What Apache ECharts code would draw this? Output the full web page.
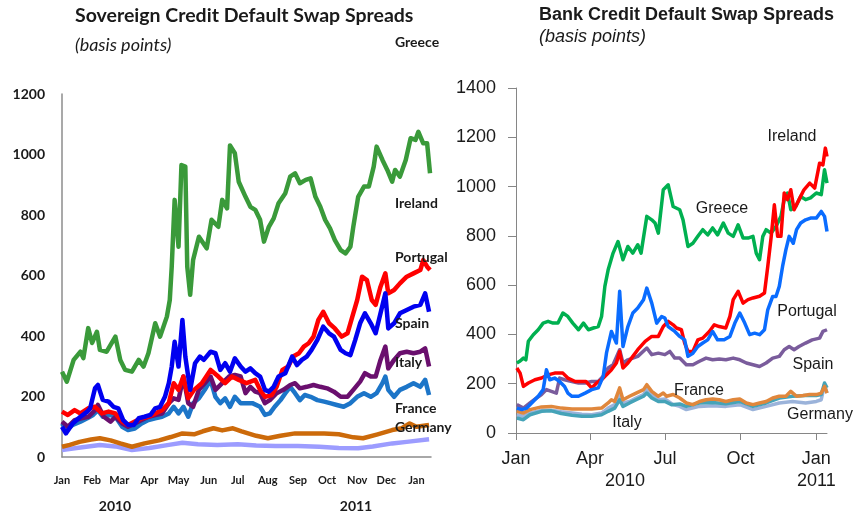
<!DOCTYPE html>
<html>
<head>
<meta charset="utf-8">
<script src="https://cdn.jsdelivr.net/npm/echarts@6/dist/echarts.min.js"></script>
<style>
  html, body { margin: 0; padding: 0; background: #ffffff; }
  #chart { width: 856px; height: 518px; }
</style>
</head>
<body>
<div id="chart"></div>
<script>
// x values are days counted from 1 Jan 2010
const monthStarts = [0, 31, 59, 90, 120, 151, 181, 212, 243, 273, 304, 334, 365];
const monthNames = ['Jan', 'Feb', 'Mar', 'Apr', 'May', 'Jun', 'Jul', 'Aug', 'Sep', 'Oct', 'Nov', 'Dec', 'Jan'];
const quarterStarts = [0, 90, 181, 273, 365];
const quarterNames = ['Jan', 'Apr', 'Jul', 'Oct', 'Jan'];
const yearLabels = ['2010', '2011'];

// Sovereign CDS spreads, basis points: [day, value]
const sovGreece = [[0,282],[5,249],[12,321],[19,348],[22,327],[27,426],[31,377],[36,414],[39,354],[46,348],[55,398],[60,321],[65,288],[72,282],[79,321],[84,299],[89,343],[96,442],[101,398],[108,464],[111,519],[113,629],[116,850],[120,695],[123,965],[127,960],[129,629],[132,536],[135,651],[141,728],[149,690],[154,784],[161,761],[165,850],[170,822],[173,1030],[178,1004],[182,910],[189,860],[194,827],[199,817],[204,784],[208,712],[213,761],[218,789],[223,839],[230,872],[235,927],[240,938],[245,905],[251,916],[256,921],[261,860],[266,827],[271,784],[276,756],[281,717],[287,684],[292,673],[297,695],[300,761],[305,860],[311,894],[316,894],[321,960],[324,1026],[330,982],[335,949],[340,910],[343,949],[348,927],[354,982],[359,1054],[364,1048],[367,1075],[372,1037],[376,1037],[379,938]];
const sovIreland = [[0,150],[6,139],[13,155],[19,144],[27,161],[34,166],[41,144],[48,150],[55,144],[62,117],[68,106],[75,117],[82,128],[89,133],[96,144],[103,155],[110,178],[115,244],[120,222],[125,266],[130,194],[136,222],[144,244],[153,288],[161,266],[168,244],[175,266],[182,255],[190,244],[199,255],[204,222],[209,199],[216,205],[221,232],[227,288],[233,299],[238,332],[244,343],[249,365],[254,376],[259,398],[264,453],[269,480],[275,442],[281,425],[288,398],[294,409],[299,464],[304,519],[309,596],[314,585],[319,519],[323,503],[328,563],[333,607],[336,541],[342,552],[348,574],[355,596],[362,607],[369,618],[372,651],[376,629],[379,618]];
const sovPortugal = [[0,100],[4,78],[11,111],[19,133],[26,150],[29,161],[34,227],[37,238],[42,189],[48,183],[53,166],[58,161],[63,122],[68,106],[74,106],[79,128],[85,133],[91,139],[96,161],[101,166],[106,199],[110,244],[113,299],[116,381],[120,299],[124,453],[127,332],[132,222],[137,310],[142,332],[146,321],[153,348],[158,343],[163,288],[168,310],[173,282],[178,326],[184,299],[189,282],[194,293],[199,277],[204,266],[209,222],[213,216],[218,232],[223,266],[230,277],[237,332],[242,304],[247,321],[252,332],[257,354],[263,387],[269,431],[275,409],[280,398],[287,354],[292,343],[297,337],[302,387],[307,442],[312,475],[318,442],[323,409],[328,475],[333,541],[336,425],[342,442],[348,475],[355,486],[362,497],[369,503],[374,541],[378,480]];
const sovSpain = [[0,117],[6,100],[13,122],[20,128],[27,133],[34,155],[37,172],[43,133],[50,117],[55,133],[62,111],[68,100],[75,111],[82,122],[89,133],[96,139],[103,144],[110,178],[115,194],[120,189],[125,266],[130,178],[135,166],[141,222],[147,244],[153,266],[158,222],[165,244],[172,266],[178,271],[184,266],[189,211],[194,232],[199,216],[204,211],[209,178],[214,188],[221,211],[228,222],[235,238],[240,244],[245,227],[252,232],[259,238],[266,232],[273,227],[280,216],[287,199],[294,199],[300,222],[307,249],[312,277],[318,266],[323,266],[328,321],[333,365],[336,293],[342,321],[348,343],[355,348],[362,343],[369,348],[374,359],[378,299]];
const sovItaly = [[0,111],[5,89],[11,106],[19,117],[26,128],[32,139],[37,155],[42,133],[50,139],[55,133],[62,100],[68,89],[75,94],[82,111],[89,122],[96,128],[103,133],[110,144],[115,166],[120,144],[125,166],[130,133],[135,178],[141,194],[147,222],[153,255],[158,199],[163,178],[168,194],[173,166],[178,199],[184,178],[190,178],[196,178],[204,166],[209,139],[214,144],[219,166],[225,188],[230,211],[235,232],[240,211],[245,188],[250,205],[256,199],[263,188],[270,183],[276,178],[283,172],[290,166],[297,178],[304,199],[311,211],[318,199],[324,211],[330,244],[333,266],[336,222],[342,199],[348,222],[355,232],[362,244],[369,232],[374,255],[378,205]];
const sovFrance = [[0,34],[8,40],[18,50],[30,58],[39,62],[50,55],[60,45],[72,34],[85,45],[100,55],[112,66],[124,78],[136,75],[145,85],[156,95],[165,88],[176,95],[185,85],[200,70],[212,62],[225,70],[240,78],[255,78],[270,78],[285,75],[300,65],[310,62],[325,75],[340,89],[350,95],[358,111],[365,100],[378,106]];
const sovGermany = [[0,23],[15,30],[39,40],[55,35],[72,23],[90,30],[110,40],[124,47],[140,42],[160,40],[181,42],[200,38],[220,36],[243,36],[265,34],[285,30],[305,29],[320,35],[340,45],[355,50],[378,59]];

// Bank CDS spreads, basis points: [day, value]
const bankGreece = [[1,284],[5,292],[9,304],[12,297],[15,372],[21,399],[27,419],[33,446],[39,453],[45,446],[51,446],[57,487],[63,473],[69,446],[76,419],[82,446],[88,419],[94,426],[100,432],[104,473],[108,595],[112,662],[118,730],[124,777],[130,703],[136,757],[142,730],[148,764],[152,730],[159,879],[165,865],[169,852],[173,811],[179,987],[185,1007],[191,919],[199,906],[203,865],[209,757],[215,770],[221,798],[227,825],[233,804],[239,832],[245,804],[252,852],[258,811],[264,798],[270,845],[276,791],[282,791],[288,798],[292,730],[296,703],[300,798],[304,825],[310,811],[316,838],[322,879],[326,947],[330,974],[334,906],[340,919],[346,960],[352,947],[358,954],[365,974],[371,967],[375,1068],[378,1014]];
const bankIreland = [[1,264],[5,243],[9,189],[15,203],[23,216],[31,223],[39,236],[47,243],[57,243],[63,223],[72,209],[79,209],[85,209],[92,183],[98,203],[104,216],[110,236],[116,257],[122,284],[126,331],[130,264],[136,284],[142,311],[148,338],[157,372],[165,392],[173,392],[179,432],[185,453],[191,439],[195,426],[201,419],[205,365],[209,331],[215,331],[221,378],[227,385],[235,412],[241,439],[247,432],[255,426],[260,473],[264,541],[270,575],[276,527],[282,541],[288,548],[296,555],[302,568],[306,676],[310,791],[314,926],[318,798],[322,798],[326,974],[330,947],[334,987],[338,906],[344,947],[350,987],[357,1014],[363,994],[369,1095],[373,1088],[376,1156],[378,1122]];
const bankPortugal = [[1,101],[7,95],[13,101],[19,122],[27,149],[33,176],[37,257],[41,216],[47,223],[53,209],[59,189],[63,162],[68,149],[76,149],[84,162],[92,176],[100,183],[106,230],[110,325],[116,412],[122,365],[126,575],[130,351],[136,432],[142,487],[148,507],[155,541],[159,588],[165,527],[171,446],[177,473],[181,466],[185,432],[193,412],[199,392],[205,378],[209,311],[215,324],[221,351],[227,365],[233,378],[239,412],[245,378],[253,378],[260,392],[266,446],[272,487],[278,446],[284,399],[290,405],[296,399],[302,419],[306,500],[312,554],[316,554],[320,595],[324,676],[328,743],[332,798],[337,770],[341,825],[346,852],[352,865],[358,872],[365,872],[371,899],[375,879],[378,818]];
const bankSpain = [[1,115],[9,101],[17,122],[25,142],[31,156],[37,176],[43,169],[49,162],[53,223],[59,216],[68,209],[76,203],[84,203],[92,209],[100,209],[106,230],[112,264],[118,277],[126,338],[130,284],[136,297],[142,304],[148,311],[159,345],[165,318],[173,324],[181,318],[187,331],[193,304],[199,304],[207,277],[215,277],[223,291],[231,304],[239,297],[247,300],[255,297],[264,304],[272,297],[280,284],[288,277],[296,270],[304,284],[312,304],[320,311],[326,338],[332,351],[338,338],[344,351],[352,365],[360,378],[369,385],[373,412],[378,419]];
const bankFrance = [[1,88],[9,81],[17,95],[31,106],[43,108],[55,101],[68,97],[80,97],[92,97],[104,101],[112,122],[116,135],[120,128],[126,183],[130,135],[138,149],[146,162],[155,176],[159,196],[165,169],[173,149],[179,162],[183,149],[191,156],[199,142],[207,122],[215,115],[223,128],[231,135],[239,138],[247,135],[255,128],[264,135],[272,138],[280,122],[288,115],[296,122],[304,128],[312,142],[320,149],[328,149],[334,169],[341,149],[349,152],[357,156],[365,156],[371,162],[375,189],[378,162]];
const bankItaly = [[1,61],[9,54],[17,74],[31,88],[43,90],[55,79],[68,72],[80,68],[92,68],[104,74],[112,88],[120,101],[126,135],[130,108],[138,122],[146,135],[155,149],[159,162],[165,142],[173,128],[181,128],[189,115],[199,118],[207,108],[223,122],[239,124],[255,119],[272,128],[288,108],[304,122],[320,142],[336,149],[352,152],[365,152],[371,156],[375,203],[378,183]];
const bankGermany = [[1,74],[9,68],[17,81],[31,92],[43,92],[55,86],[68,81],[80,76],[92,74],[104,81],[112,101],[120,115],[126,162],[130,122],[138,128],[146,142],[155,156],[159,176],[165,156],[173,135],[181,138],[191,115],[199,108],[207,95],[223,108],[239,111],[255,108],[272,115],[288,95],[304,108],[320,122],[336,128],[352,122],[365,128],[371,135],[375,196],[378,162]];

const LEFT_FONT = 'Lato, "Open Sans", sans-serif';
const RIGHT_FONT = '"Liberation Sans", Arial, sans-serif';

function line(name, data, color, width, axis) {
  return {
    name: name,
    type: 'line',
    xAxisIndex: axis,
    yAxisIndex: axis,
    data: data,
    symbol: 'none',
    lineStyle: { color: color, width: width, join: 'round' },
    emphasis: { disabled: true },
    silent: true
  };
}

function label(text, x, y, font, align) {
  return {
    type: 'text',
    x: x,
    y: y,
    z: 100,
    silent: true,
    style: {
      text: text,
      font: font,
      fill: '#1a1a1a',
      textAlign: align || 'left',
      textVerticalAlign: 'middle'
    }
  };
}

// plain integers on the value axes, no thousands separator
const plain = function (v) { return String(v); };

const chart = echarts.init(document.getElementById('chart'), null, { renderer: 'canvas' });

chart.setOption({
  animation: false,
  backgroundColor: '#ffffff',
  grid: [
    { left: 62, top: 94, width: 369, height: 363 },
    { left: 516, top: 88, width: 311, height: 345 }
  ],
  xAxis: [
    {
      type: 'value', gridIndex: 0, min: 0, max: 380,
      splitLine: { show: false },
      axisLine: { lineStyle: { color: '#8c8c8c', width: 1.5 } },
      axisTick: { show: false },
      axisLabel: {
        customValues: monthStarts,
        hideOverlap: false,
        margin: 18,
        fontFamily: LEFT_FONT, fontWeight: 'bold', fontSize: 11, color: '#1a1a1a',
        formatter: function (v) { return monthNames[monthStarts.indexOf(v)]; }
      }
    },
    {
      type: 'value', gridIndex: 1, min: 0, max: 378,
      splitLine: { show: false },
      axisLine: { lineStyle: { color: '#868686', width: 1 } },
      axisTick: { customValues: quarterStarts, length: 7, lineStyle: { color: '#868686' } },
      axisLabel: {
        customValues: quarterStarts,
        margin: 15,
        fontFamily: RIGHT_FONT, fontSize: 18, color: '#1a1a1a', lineHeight: 22,
        formatter: function (v) {
          const i = quarterStarts.indexOf(v);
          return i === quarterStarts.length - 1 ? quarterNames[i] + '\n' + yearLabels[1] : quarterNames[i];
        }
      }
    }
  ],
  yAxis: [
    {
      type: 'value', gridIndex: 0, min: 0, max: 1200, interval: 200,
      splitLine: { show: false },
      axisLine: { show: true, lineStyle: { color: '#8c8c8c', width: 1.5 } },
      axisTick: { show: false },
      axisLabel: { margin: 17, fontFamily: LEFT_FONT, fontWeight: 'bold', fontSize: 14, color: '#1a1a1a', formatter: plain }
    },
    {
      type: 'value', gridIndex: 1, min: 0, max: 1400, interval: 200,
      splitLine: { show: false },
      axisLine: { show: true, lineStyle: { color: '#868686', width: 1 } },
      axisTick: { show: true, length: 8, lineStyle: { color: '#868686' } },
      axisLabel: { margin: 20, fontFamily: RIGHT_FONT, fontSize: 18, color: '#1a1a1a', formatter: plain }
    }
  ],
  series: [
    line('Germany', sovGermany, '#9c9cff', 4.5, 0),
    line('France', sovFrance, '#cc6a0a', 4.5, 0),
    line('Italy', sovItaly, '#1c75c8', 4.5, 0),
    line('Spain', sovSpain, '#6a0f6e', 4.5, 0),
    line('Ireland', sovIreland, '#ff0000', 4.5, 0),
    line('Portugal', sovPortugal, '#0000f0', 4.5, 0),
    line('Greece', sovGreece, '#3a9a3a', 4.5, 0),

    line('Germany', bankGermany, '#9bb3da', 3.5, 1),
    line('Italy', bankItaly, '#45a3b8', 3.5, 1),
    line('France', bankFrance, '#e0873c', 3.5, 1),
    line('Spain', bankSpain, '#7a5c9c', 3.5, 1),
    line('Greece', bankGreece, '#00b050', 3.5, 1),
    line('Ireland', bankIreland, '#ff0000', 3.5, 1),
    line('Portugal', bankPortugal, '#0a6cff', 3.5, 1)
  ],
  graphic: [
    label('Sovereign Credit Default Swap Spreads', 75, 16, 'bold 19.5px ' + LEFT_FONT),
    label('(basis points)', 75, 45, 'italic 18px ' + LEFT_FONT),
    label('Greece', 395, 42, 'bold 14px ' + LEFT_FONT),
    label('Ireland', 395, 203, 'bold 14px ' + LEFT_FONT),
    label('Portugal', 395, 257, 'bold 14px ' + LEFT_FONT),
    label('Spain', 395, 323, 'bold 14px ' + LEFT_FONT),
    label('Italy', 395, 362, 'bold 14px ' + LEFT_FONT),
    label('France', 395, 408, 'bold 14px ' + LEFT_FONT),
    label('Germany', 395, 427, 'bold 14px ' + LEFT_FONT),
    label(yearLabels[0], 115, 506, 'bold 14px ' + LEFT_FONT, 'center'),
    label(yearLabels[1], 356, 506, 'bold 14px ' + LEFT_FONT, 'center'),

    label('Bank Credit Default Swap Spreads', 539, 15, 'bold 18px ' + RIGHT_FONT),
    label('(basis points)', 539, 37, 'italic 18px ' + RIGHT_FONT),
    label('Ireland', 792, 137, '16px ' + RIGHT_FONT, 'center'),
    label('Greece', 722, 209, '16px ' + RIGHT_FONT, 'center'),
    label('Portugal', 807, 312, '16px ' + RIGHT_FONT, 'center'),
    label('Spain', 813, 365, '16px ' + RIGHT_FONT, 'center'),
    label('France', 699, 391, '16px ' + RIGHT_FONT, 'center'),
    label('Italy', 627, 423, '16px ' + RIGHT_FONT, 'center'),
    label('Germany', 820, 415, '16px ' + RIGHT_FONT, 'center'),
    label(yearLabels[0], 625, 481, '18px ' + RIGHT_FONT, 'center')
  ]
});
</script>
</body>
</html>
